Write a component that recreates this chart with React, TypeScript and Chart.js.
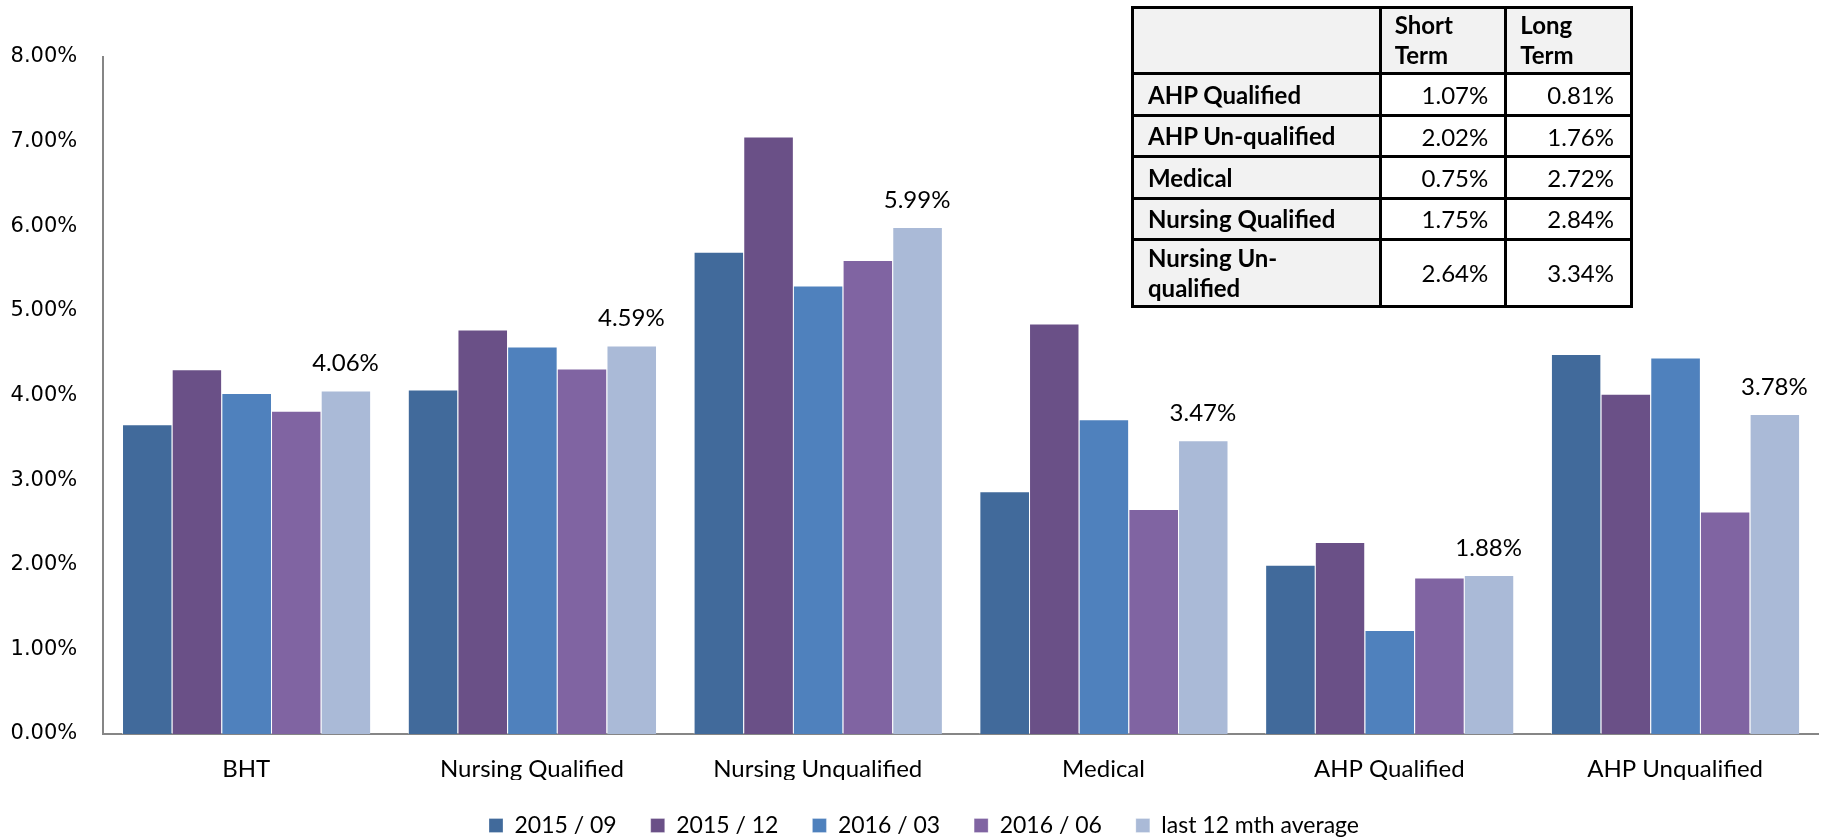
import React, { useEffect, useRef } from "react";
import { Chart, registerables } from "chart.js";

Chart.register(...registerables);

const categories = ["BHT", "Nursing Qualified", "Nursing Unqualified", "Medical", "AHP Qualified", "AHP Unqualified"];
const seriesLabels = ["2015 / 09", "2015 / 12", "2016 / 03", "2016 / 06", "last 12 mth average"];
const s201509 = [3.66, 4.07, 5.70, 2.87, 2.00, 4.49];
const s201512 = [4.31, 4.78, 7.06, 4.85, 2.27, 4.02];
const s201603 = [4.03, 4.58, 5.30, 3.72, 1.23, 4.45];
const s201606 = [3.82, 4.32, 5.60, 2.66, 1.85, 2.63];
const avg12 = [4.06, 4.59, 5.99, 3.47, 1.88, 3.78];
const seriesColors = ["#416A9B", "#6A5087", "#4F81BD", "#8064A2", "#AABAD7"];
const yTicks = [0, 1, 2, 3, 4, 5, 6, 7, 8];

const tableRowLabels = ["AHP Qualified", "AHP Un-qualified", "Medical", "Nursing Qualified", "Nursing Un-\nqualified"];
const tableHeaders = ["Short\nTerm", "Long\nTerm"];
const shortTerm = ["1.07%", "2.02%", "0.75%", "1.75%", "2.64%"];
const longTerm = ["0.81%", "1.76%", "2.72%", "2.84%", "3.34%"];

const FONT = "Lato, 'Open Sans', sans-serif";

const avgLabelPlugin = {
  id: "avgLabels",
  afterDatasetsDraw(chart: any) {
    const idx = chart.data.datasets.length - 1;
    const meta = chart.getDatasetMeta(idx);
    const ctx = chart.ctx;
    ctx.save();
    ctx.font = `24px ${FONT}`;
    ctx.fillStyle = "#000";
    ctx.textAlign = "center";
    ctx.textBaseline = "middle";
    meta.data.forEach((bar: any, i: number) => {
      const v = chart.data.datasets[idx].data[i] as number;
      ctx.fillText(v.toFixed(2) + "%", bar.x, bar.y - 27);
    });
    ctx.restore();
  },
};

const legendShiftPlugin = {
  id: "legendShift",
  afterLayout(chart: any) {
    if (chart.legend) {
      chart.legend.left += 11;
      chart.legend.right += 11;
    }
  },
};

const multiline = (s: string) =>
  s.split("\n").map((p, i, arr) => (
    <React.Fragment key={i}>
      {p}
      {i < arr.length - 1 ? <br /> : null}
    </React.Fragment>
  ));

export default function App() {
  const ref = useRef<HTMLCanvasElement | null>(null);

  useEffect(() => {
    if (!ref.current) return;
    const allSeries = [s201509, s201512, s201603, s201606, avg12];
    const chart = new Chart(ref.current, {
      type: "bar",
      data: {
        labels: categories,
        datasets: allSeries.map((d, i) => ({
          label: seriesLabels[i],
          data: d,
          backgroundColor: seriesColors[i],
          borderColor: "rgba(255,255,255,0.55)",
          borderWidth: { top: 1, left: 1, right: 0, bottom: 0 },
          borderSkipped: false,
        })),
      },
      options: {
        responsive: false,
        animation: false,
        devicePixelRatio: 1,
        layout: { padding: { left: 8, right: 4, top: 57, bottom: -8 } },
        datasets: { bar: { categoryPercentage: 0.869, barPercentage: 1 } },
        plugins: {
          legend: {
            position: "bottom",
            labels: {
              boxWidth: 14,
              boxHeight: 14,
              padding: 34,
              color: "#000",
              font: { family: FONT, size: 23 },
            },
          },
          tooltip: { enabled: false },
        },
        scales: {
          x: {
            afterFit: (s: any) => {
              s.height = 46;
            },
            grid: { display: false, drawTicks: false },
            border: { color: "#868686", width: 2 },
            ticks: { color: "#000", font: { family: FONT, size: 24 }, padding: 21 },
          },
          y: {
            min: 0,
            max: 8,
            afterFit: (s: any) => {
              s.width = 95.3;
            },
            afterBuildTicks: (scale: any) => {
              scale.ticks = yTicks.map((v) => ({ value: v }));
            },
            grid: { display: false, drawTicks: false },
            border: { color: "#868686", width: 2 },
            ticks: {
              color: "#000",
              padding: 26,
              font: { family: "'DejaVu Sans', Verdana, sans-serif", size: 21 },
              callback: (v: any) => Number(v).toFixed(2) + "%",
            },
          },
        },
      },
      plugins: [avgLabelPlugin, legendShiftPlugin],
    });
    return () => chart.destroy();
  }, []);

  const border = "3px solid #000";
  const labelCell: React.CSSProperties = {
    border,
    background: "#f2f2f2",
    fontWeight: 700,
    padding: "0 0 0 14px",
    textAlign: "left",
    verticalAlign: "middle",
    lineHeight: "30px",
  };
  const valueCell: React.CSSProperties = {
    border,
    background: "#fff",
    padding: "0 16px 0 0",
    textAlign: "right",
    verticalAlign: "middle",
  };
  const headCell: React.CSSProperties = {
    border,
    background: "#f2f2f2",
    fontWeight: 700,
    padding: "0 0 0 13px",
    textAlign: "left",
    verticalAlign: "middle",
    lineHeight: "30px",
  };
  const rowHeights = [42, 41, 41.5, 41, 67];

  return (
    <div style={{ position: "absolute", left: 0, top: 0, width: 1822, height: 839, background: "#fff" }}>
      <canvas ref={ref} width={1822} height={839} style={{ position: "absolute", left: 0, top: 0 }} />
      <table
        style={{
          position: "absolute",
          left: 1131,
          top: 5.7,
          width: 499,
          borderCollapse: "collapse",
          tableLayout: "fixed",
          fontFamily: FONT,
          fontSize: 24,
          color: "#000",
        }}
      >
        <colgroup>
          <col style={{ width: 247.7 }} />
          <col style={{ width: 125.6 }} />
          <col style={{ width: 125.7 }} />
        </colgroup>
        <tbody>
          <tr style={{ height: 66.6 }}>
            <td style={headCell}></td>
            {tableHeaders.map((h, i) => (
              <td key={i} style={headCell}>
                {multiline(h)}
              </td>
            ))}
          </tr>
          {tableRowLabels.map((r, i) => (
            <tr key={i} style={{ height: rowHeights[i] }}>
              <td style={labelCell}>{multiline(r)}</td>
              <td style={valueCell}>{shortTerm[i]}</td>
              <td style={valueCell}>{longTerm[i]}</td>
            </tr>
          ))}
        </tbody>
      </table>
    </div>
  );
}
